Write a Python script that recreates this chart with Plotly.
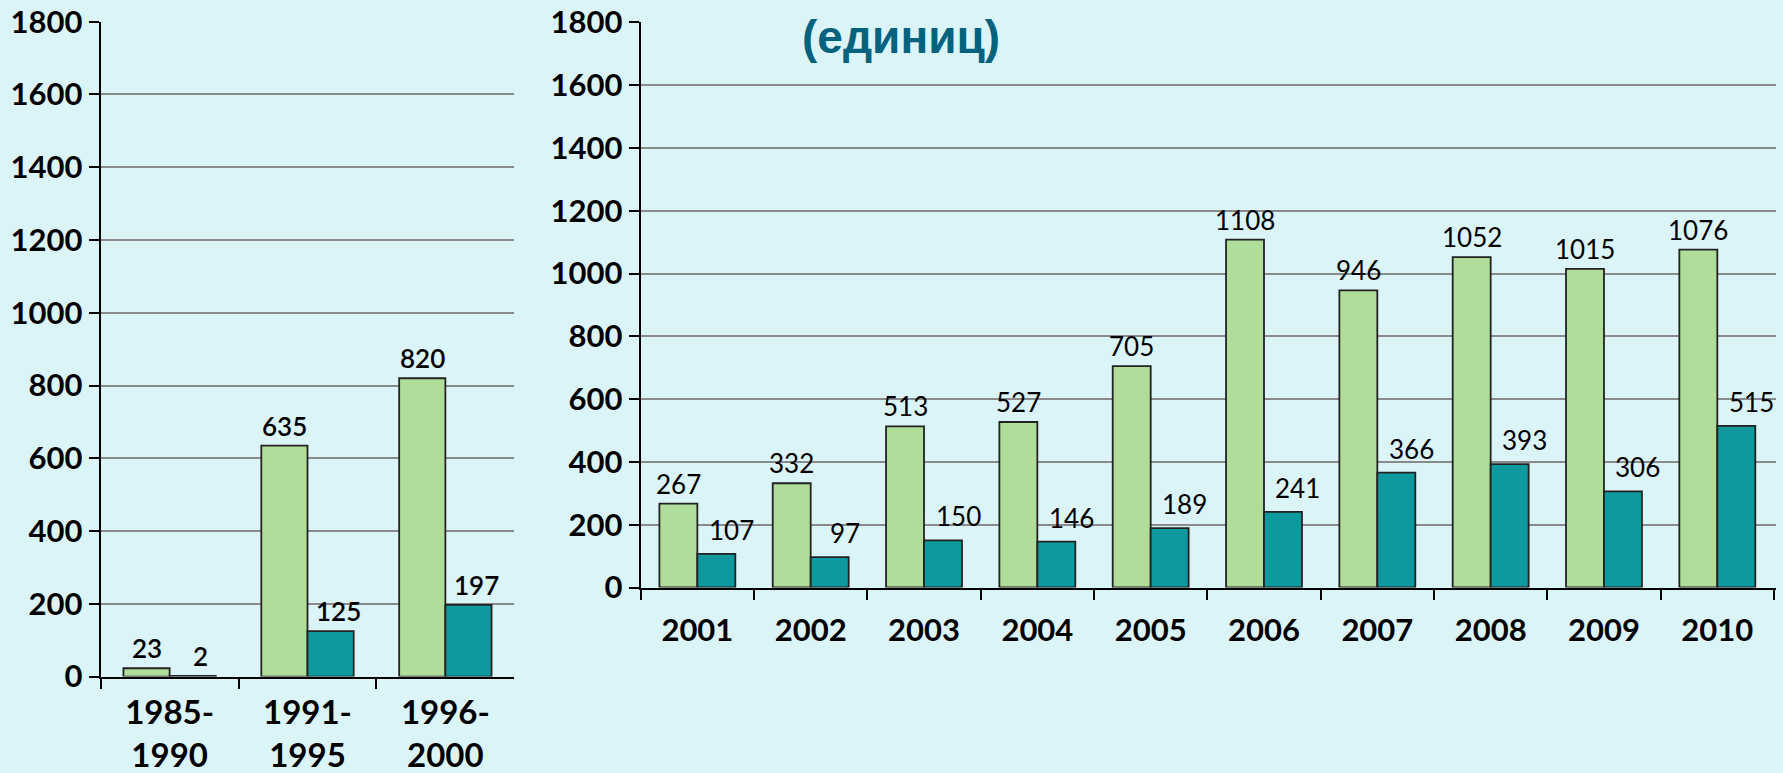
import plotly.graph_objects as go

# ---- data ----
periods = ["1985-<br>1990", "1991-<br>1995", "1996-<br>2000"]
periods_green = [23, 635, 820]
periods_teal = [2, 125, 197]

years = ["2001", "2002", "2003", "2004", "2005", "2006", "2007", "2008", "2009", "2010"]
years_green = [267, 332, 513, 527, 705, 1108, 946, 1052, 1015, 1076]
years_teal = [107, 97, 150, 146, 189, 241, 366, 393, 306, 515]

y_ticks = [0, 200, 400, 600, 800, 1000, 1200, 1400, 1600, 1800]
title_text = "(единиц)"

# ---- style ----
BG = "#DBF4F8"
GREEN = "#B0DE9A"
TEAL = "#0E999F"
GRID = "#8A8A8A"
TITLE_COLOR = "#03627E"
FONT = "Lato"
BARGAP = 0.33
W, H = 1783, 773

fig = go.Figure()

def add_bars(cats, green, teal, xa, ya):
    fig.add_trace(go.Bar(x=cats, y=green, xaxis=xa, yaxis=ya, marker=dict(color=GREEN, line=dict(color="#222222", width=1.8)),
                         showlegend=False, hoverinfo="skip"))
    fig.add_trace(go.Bar(x=cats, y=teal, xaxis=xa, yaxis=ya, marker=dict(color=TEAL, line=dict(color="#222222", width=1.8)),
                         showlegend=False, hoverinfo="skip"))

add_bars(periods, periods_green, periods_teal, "x", "y")
add_bars(years, years_green, years_teal, "x2", "y2")

off = (1 - BARGAP) / 4
annotations = []

def add_labels(green, teal, xref, yref, teal_xshift, teal_yshift, weight):
    for i, v in enumerate(green):
        annotations.append(dict(x=i - off, y=v, xref=xref, yref=yref, text=str(v), showarrow=False,
                                yanchor="bottom", yshift=2,
                                font=dict(family=FONT, size=26, color="black", weight=weight)))
    for i, v in enumerate(teal):
        annotations.append(dict(x=i + off, y=v, xref=xref, yref=yref, text=str(v), showarrow=False,
                                yanchor="bottom", xshift=teal_xshift, yshift=teal_yshift,
                                font=dict(family=FONT, size=26, color="black", weight=weight)))

add_labels(periods_green, periods_teal, "x", "y", 8, 2, 600)
add_labels(years_green, years_teal, "x2", "y2", 15, 6, 400)

annotations.append(dict(x=901 / W, y=1 - 37 / H, xref="paper", yref="paper", text="<b>" + title_text + "</b>",
                        showarrow=False, xanchor="center", yanchor="middle",
                        font=dict(family="Liberation Sans", size=46, color=TITLE_COLOR)))

tickfont = dict(family=FONT, size=31, color="black", weight="bold")
tickfont_left_x = dict(family=FONT, size=33, color="black", weight="bold")

xcommon = dict(type="category", showline=True, linecolor="black", linewidth=2, ticks="outside",
               tickson="boundaries", ticklen=10, tickwidth=2, tickcolor="black", showgrid=False,
               zeroline=False, automargin=False)
ycommon = dict(range=[0, 1800], tickvals=y_ticks, showline=True, linecolor="black", linewidth=2,
               ticks="outside", ticklen=10, tickwidth=2, tickcolor="black", showgrid=True,
               gridcolor=GRID, gridwidth=2, zeroline=False, tickfont=tickfont, automargin=False)

fig.update_layout(
    width=W, height=H,
    margin=dict(l=0, r=0, t=0, b=0, pad=0, autoexpand=False),
    paper_bgcolor=BG, plot_bgcolor=BG,
    barmode="group", bargap=BARGAP, bargroupgap=0,
    xaxis=dict(domain=[100.7 / W, 514.3 / W], anchor="y", ticklabelstandoff=6, tickfont=tickfont_left_x, **xcommon),
    yaxis=dict(domain=[1 - 676.6 / H, 1 - 21.7 / H], anchor="x", **ycommon),
    xaxis2=dict(domain=[640.7 / W, 1775.8 / W], anchor="y2", ticklabelstandoff=14, tickfont=tickfont, **xcommon),
    yaxis2=dict(domain=[1 - 587.5 / H, 1 - 22.3 / H], anchor="x2", **ycommon),
    annotations=annotations,
)

fig.write_html("out.html", config={"displayModeBar": False},
               post_script="document.body.style.margin='0';document.body.style.overflow='hidden';")
